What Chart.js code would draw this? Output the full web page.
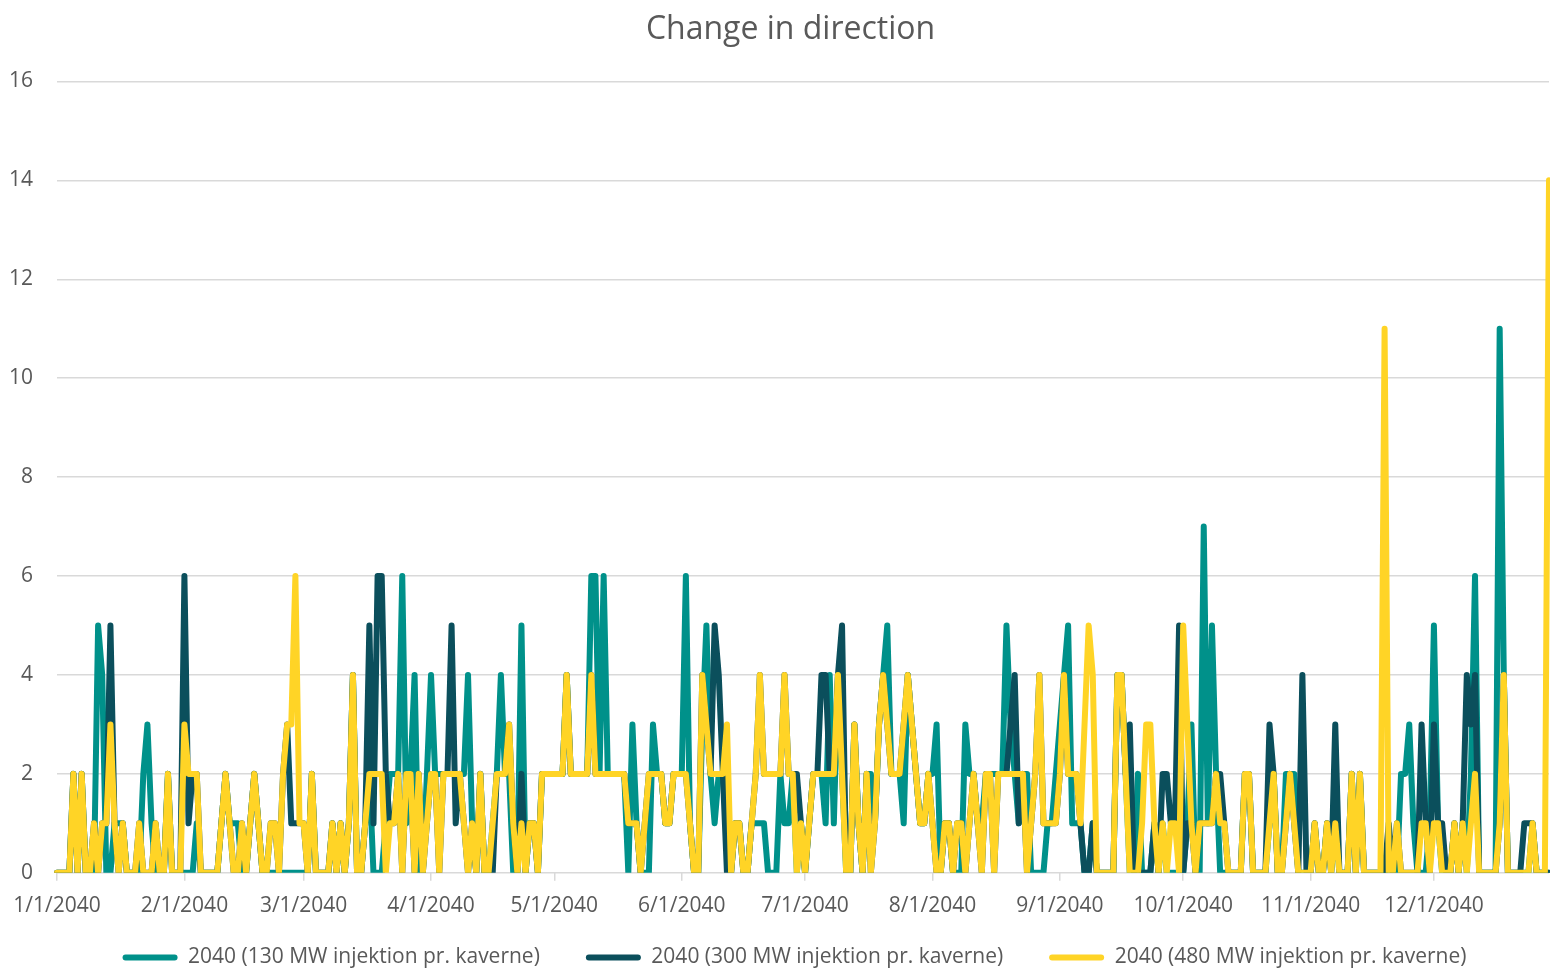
<!DOCTYPE html>
<html>
<head>
<meta charset="utf-8">
<script src="https://cdn.jsdelivr.net/npm/chart.js@4.4.1/dist/chart.umd.min.js"></script>
<style>
html,body{margin:0;padding:0;background:#ffffff;}
#wrap{width:1550px;height:969px;}
</style>
</head>
<body>
<div id="wrap"><canvas id="c" width="1550" height="969"></canvas></div>
<script>
const chartTitle = 'Change in direction';
const seriesNames = [
  '2040 (130 MW injektion pr. kaverne)',
  '2040 (300 MW injektion pr. kaverne)',
  '2040 (480 MW injektion pr. kaverne)'
];
const monthTicks = ['1/1/2040','2/1/2040','3/1/2040','4/1/2040','5/1/2040','6/1/2040',
  '7/1/2040','8/1/2040','9/1/2040','10/1/2040','11/1/2040','12/1/2040'];
const yTicks = [0,2,4,6,8,10,12,14,16];

// daily values, 1/1/2040 .. 12/29/2040
const teal130 = [
0,0,0,0,2,0,2,0,0,0,
5,4,0,0,1,1,1,0,0,0,
0,2,3,1,0,0,0,2,0,0,
0,0,0,0,1,0,0,0,0,0,
1,2,1,1,1,0,0,1,2,1,
0,0,0,0,0,0,0,0,0,0,
0,0,2,0,0,0,0,1,0,1,
0,1,4,0,0,1,2,0,0,0,
1,2,2,2,6,1,2,4,0,0,
2,4,2,2,2,2,2,2,2,2,
4,1,0,2,0,0,1,2,4,2,
2,0,0,5,0,1,1,0,2,2,
2,2,2,2,4,2,2,2,2,2,
6,6,2,6,2,2,2,2,2,0,
3,1,0,0,0,3,2,2,1,1,
2,2,2,6,1,0,0,3,5,2,
1,2,2,2,0,1,1,0,0,1,
1,1,1,0,0,0,2,1,1,2,
0,1,0,1,2,2,2,1,4,1,
4,2,0,0,3,1,0,2,2,1,
3,4,5,2,2,2,1,4,3,2,
1,1,2,2,3,0,1,1,0,0,
0,3,2,2,1,1,2,2,2,2,
2,5,3,2,1,2,2,0,0,0,
0,1,1,2,3,4,5,1,1,1,
0,0,1,0,0,0,0,0,4,4,
2,0,0,2,0,0,0,1,0,1,
0,0,0,0,0,1,3,0,0,7,
1,5,2,0,0,0,0,0,0,2,
2,0,0,0,0,1,2,0,0,2,
2,2,0,0,0,0,1,0,0,1,
0,1,0,0,0,2,0,2,0,0,
0,0,0,0,0,0,0,2,2,3,
1,0,0,0,1,5,1,0,0,0,
1,0,1,0,2,6,0,0,0,0,
0,11,4,0,0,0,0,0,0,1,
0,0,0,0];

const dark300 = [
0,0,0,0,2,0,2,0,0,1,
0,1,1,5,1,0,1,0,0,0,
1,0,0,0,1,0,0,2,0,0,
0,6,1,2,2,0,0,0,0,0,
1,2,1,0,0,1,0,1,2,1,
0,0,1,1,0,2,3,1,1,1,
1,0,2,0,0,0,0,1,0,1,
0,1,4,0,0,1,5,1,6,6,
2,1,1,2,0,2,2,0,2,0,
1,2,2,0,2,2,5,1,2,1,
0,1,0,2,0,0,0,2,2,2,
3,1,0,2,0,1,1,0,2,2,
2,2,2,2,4,2,2,2,2,2,
4,2,2,2,2,2,2,2,2,1,
1,1,0,1,2,2,2,2,1,1,
2,2,2,2,1,0,0,4,3,2,
5,4,2,0,0,1,1,0,0,1,
2,4,2,2,2,2,2,4,2,2,
2,1,0,1,2,2,4,4,2,2,
4,5,0,0,3,1,0,2,0,1,
3,4,3,2,2,2,3,4,3,2,
1,1,2,1,0,0,1,1,0,1,
1,0,1,2,1,0,2,2,0,2,
2,2,3,4,1,2,0,1,2,4,
1,1,1,1,2,4,2,2,2,1,
0,0,1,0,0,0,0,0,4,4,
2,3,0,0,0,0,0,1,0,2,
2,1,1,5,0,1,1,0,1,1,
1,1,2,2,1,0,0,0,0,2,
2,0,0,0,0,3,2,0,0,1,
2,1,0,4,0,0,1,0,0,1,
0,3,0,0,0,2,0,2,0,0,
0,0,0,0,1,0,1,0,0,0,
0,0,3,1,0,3,1,1,0,0,
1,0,1,4,3,4,0,0,0,0,
0,1,4,0,0,0,0,1,1,1,
0,0,0,0];

const yellow480 = [
0,0,0,0,2,0,2,0,0,1,
0,1,1,3,1,0,1,0,0,0,
1,0,0,0,1,0,0,2,0,0,
0,3,2,2,2,0,0,0,0,0,
1,2,1,0,0,1,0,1,2,1,
0,0,1,1,0,2,3,3,6,1,
1,0,2,0,0,0,0,1,0,1,
0,1,4,0,0,1,2,2,2,2,
0,1,1,2,0,2,2,0,2,0,
1,2,2,0,2,2,2,2,2,1,
0,1,0,2,0,0,1,2,2,2,
3,1,0,1,0,1,1,0,2,2,
2,2,2,2,4,2,2,2,2,2,
4,2,2,2,2,2,2,2,2,1,
1,1,0,1,2,2,2,2,1,1,
2,2,2,2,1,0,0,4,3,2,
2,2,2,3,0,1,1,0,0,1,
2,4,2,2,2,2,2,4,2,2,
0,1,0,1,2,2,2,2,2,2,
4,2,0,0,3,1,0,2,0,1,
3,4,3,2,2,2,3,4,3,2,
1,1,2,1,0,0,1,1,0,1,
1,0,1,2,1,0,2,2,0,2,
2,2,2,2,2,2,0,1,2,4,
1,1,1,1,2,4,2,2,2,1,
3,5,4,0,0,0,0,0,4,4,
2,0,0,0,1,3,3,1,0,1,
0,1,1,0,5,3,1,0,1,1,
1,1,2,1,1,0,0,0,0,2,
2,0,0,0,0,1,2,0,0,1,
2,1,0,0,0,0,1,0,0,1,
0,1,0,0,0,2,0,2,0,0,
0,0,0,11,0,0,1,0,0,0,
0,0,1,1,0,1,1,0,0,0,
1,0,1,0,1,2,0,0,0,0,
0,1,4,0,0,0,0,0,0,1,
0,0,0,14];

const seriesColors = ['#00918a', '#0b4f5c', '#ffd426'];

// category labels, one per day (M/D/YYYY)
const dayLabels = [];
for (let i = 0; i < yellow480.length; i++) {
  const dt = new Date(Date.UTC(2040, 0, 1 + i));
  dayLabels.push((dt.getUTCMonth() + 1) + '/' + dt.getUTCDate() + '/' + dt.getUTCFullYear());
}

const textColor = '#595959';
const gridColor = '#d9d9d9';
const FONT = 'Open Sans';

const seriesData = [teal130, dark300, yellow480];
const drawOrder = [3, 2, 1];

const datasets = seriesData.map((vals, i) => ({
  label: seriesNames[i],
  data: vals,
  borderColor: seriesColors[i],
  backgroundColor: seriesColors[i],
  borderWidth: 6,
  pointRadius: 0,
  pointHoverRadius: 0,
  tension: 0,
  fill: false,
  borderJoinStyle: 'round',
  borderCapStyle: 'round',
  order: drawOrder[i]
}));

// shift title / legend horizontally and vertically after layout
const placement = {
  id: 'placement',
  afterLayout(chart) {
    const t = chart.titleBlock;
    if (t) { t.left += 32; }
    const lg = chart.legend;
    if (lg) { lg.left += 40; lg.top -= 31; lg.bottom -= 31; }
  }
};

new Chart(document.getElementById('c'), {
  type: 'line',
  data: { labels: dayLabels, datasets: datasets },
  plugins: [placement],
  options: {
    responsive: false,
    animation: false,
    devicePixelRatio: 1,
    layout: { padding: { left: 0, right: 1, top: 0, bottom: -40 } },
    plugins: {
      title: {
        display: true,
        text: chartTitle,
        color: textColor,
        font: { family: FONT, size: 32, weight: 'normal' },
        padding: { top: 11, bottom: 32 }
      },
      legend: {
        display: true,
        position: 'bottom',
        labels: {
          color: textColor,
          font: { family: FONT, size: 21 },
          boxWidth: 55,
          boxHeight: 6,
          padding: 46,
          generateLabels: (chart) => chart.data.datasets.map((ds, i) => ({
            text: ds.label,
            fillStyle: ds.borderColor,
            strokeStyle: ds.borderColor,
            lineWidth: 0,
            borderRadius: 3,
            hidden: false,
            datasetIndex: i,
            fontColor: textColor
          }))
        }
      },
      tooltip: { enabled: false }
    },
    scales: {
      x: {
        type: 'category',
        offset: false,
        border: { display: false },
        grid: { drawOnChartArea: false, drawTicks: true, tickLength: 8, color: gridColor, lineWidth: 1.5 },
        ticks: {
          autoSkip: false, maxRotation: 0, minRotation: 0,
          color: textColor, font: { family: FONT, size: 21 }, padding: 13
        },
        afterBuildTicks: (scale) => {
          scale.ticks = scale.ticks.filter(t => monthTicks.includes(dayLabels[t.value]));
        }
      },
      y: {
        min: yTicks[0],
        max: yTicks[yTicks.length - 1],
        border: { display: false },
        grid: { color: gridColor, lineWidth: 1.5, drawTicks: false },
        ticks: {
          stepSize: yTicks[1] - yTicks[0],
          color: textColor, font: { family: FONT, size: 21 }, padding: 24
        },
        afterFit: (scale) => { scale.width = 57; }
      }
    }
  }
});
</script>
</body>
</html>
